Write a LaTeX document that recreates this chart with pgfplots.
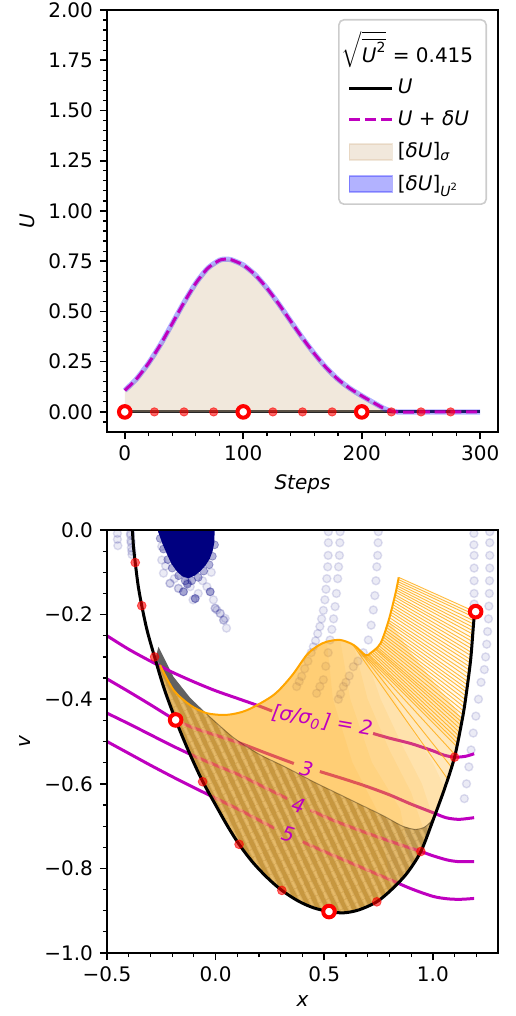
\documentclass[border=0pt]{standalone}
\usepackage{fontspec}
\setmainfont{DejaVu Sans}
\usepackage{pgfplots}
\pgfplotsset{compat=1.18}
\usetikzlibrary{patterns.meta}

\definecolor{mplnavy}{RGB}{0,0,128}
\definecolor{mplm}{rgb}{0.75,0,0.75}
\definecolor{mplorange}{RGB}{255,165,0}
\definecolor{mpltan}{RGB}{210,180,140}
\definecolor{mplblue}{RGB}{0,0,255}

\pgfplotsset{
  mpl/.style={
    scale only axis, width=195.5pt,
    axis on top, tick align=outside, tick pos=left,
    axis line style={line width=0.8pt},
    major tick length=3.5pt, minor tick length=2pt,
    major tick style={line width=0.8pt, black},
    minor tick style={line width=0.6pt, black},
    tick label style={font=\fontsize{10}{12}\selectfont},
    label style={font=\fontsize{10}{12}\selectfont},
  },
  lineimg/.style={legend image code/.code={\draw[##1] (0pt,0pt) -- (21.5pt,0pt);}},
  patchimg/.style={legend image code/.code={\filldraw[sharp corners, ##1] (0pt,-4pt) rectangle (21.5pt,4pt);}},
  traj/.style={only marks, mark=*, mark size=2pt,
    mark options={draw=mplnavy, fill=mplnavy, line width=0.7pt, draw opacity=0.12, fill opacity=0.08}},
  sheet/.style={fill=mplorange, fill opacity=#1, draw=none},
}

\begin{document}
\begin{tikzpicture}
\useasboundingbox (0,0) rectangle (257.5pt,-508pt);

% ---------------- top: U over the steps
\begin{axis}[mpl, at={(53.5pt,-5pt)}, anchor=north west, height=211pt,
  xmin=-15, xmax=315, ymin=-0.1, ymax=2,
  xtick={0,100,200,300}, xticklabels={0,100,200,300},
  minor xtick={20,40,60,80,120,140,160,180,220,240,260,280},
  ytick={0,0.25,0.5,0.75,1,1.25,1.5,1.75,2},
  yticklabels={0.00,0.25,0.50,0.75,1.00,1.25,1.50,1.75,2.00},
  minor ytick={-0.05,0,...,2},
  xlabel={\textit{Steps}}, ylabel={\textit{U}},
  legend cell align=left,
  legend style={at={(1,1)}, anchor=north east, xshift=-5.5pt, yshift=-4.5pt,
    draw=black!20, line width=0.8pt, rounded corners=2.5pt,
    fill=white, fill opacity=0.8, text opacity=1, draw opacity=1,
    font=\fontsize{10}{12}\selectfont, row sep=3pt, inner xsep=4.5pt, inner ysep=3.5pt,
    /tikz/every even column/.append style={column sep=2pt}},
]
\addplot[black, line width=1.5pt, opacity=0.85, forget plot] coordinates {(0,0) (300,0)};
\addplot[fill=mpltan, fill opacity=0.3, draw=none, forget plot] coordinates {
  (0,0) (0,0.107) (10,0.165) (20,0.242) (30,0.334) (40,0.439) (50,0.545) (60,0.641)
  (70,0.715) (80,0.755) (85,0.760) (90,0.757) (100,0.731) (110,0.683) (120,0.616)
  (130,0.537) (140,0.452) (150,0.368) (160,0.290) (170,0.220) (180,0.162) (190,0.117)
  (200,0.080) (210,0.046) (220,0.014) (230,0) (0,0)};
\addplot[mplblue, opacity=0.3, line width=2.6pt, smooth, tension=0.4, forget plot] coordinates {
  (0,0.107) (10,0.165) (20,0.242) (30,0.334) (40,0.439) (50,0.545) (60,0.641)
  (70,0.715) (80,0.755) (85,0.760) (90,0.757) (100,0.731) (110,0.683) (120,0.616)
  (130,0.537) (140,0.452) (150,0.368) (160,0.290) (170,0.220) (180,0.162) (190,0.117)
  (200,0.080) (210,0.046) (220,0.014) (230,0) (260,0) (300,0)};
\addplot[mplm, line width=1.5pt, dash pattern=on 5.5pt off 2.4pt, smooth, tension=0.4, forget plot] coordinates {
  (0,0.107) (10,0.165) (20,0.242) (30,0.334) (40,0.439) (50,0.545) (60,0.641)
  (70,0.715) (80,0.755) (85,0.760) (90,0.757) (100,0.731) (110,0.683) (120,0.616)
  (130,0.537) (140,0.452) (150,0.368) (160,0.290) (170,0.220) (180,0.162) (190,0.117)
  (200,0.080) (210,0.046) (220,0.014) (230,0) (260,0) (300,0)};
\addplot[only marks, mark=*, mark size=2.1pt, color=red, opacity=0.6, forget plot] coordinates {
  (25,0) (50,0) (75,0) (125,0) (150,0) (175,0) (225,0) (250,0) (275,0)};
\addplot[only marks, mark=*, mark size=2.9pt, mark options={fill=white, draw=red, line width=2pt}, forget plot] coordinates {
  (0,0) (100,0) (200,0)};

\addlegendimage{empty legend}
\addlegendentry{\hspace*{-28pt}$\sqrt{\overline{\mbox{\itshape U}^{\mbox{\scriptsize 2}}}}$ = 0.415}
\addlegendimage{black, line width=1.5pt, lineimg}
\addlegendentry{\textit{U}}
\addlegendimage{mplm, line width=1.5pt, dash pattern=on 5.5pt off 2.4pt, lineimg}
\addlegendentry{\textit{U} + \textit{δU}}
\addlegendimage{fill=mpltan, fill opacity=0.3, draw=mpltan, draw opacity=0.3, patchimg}
\addlegendentry{[\textit{δU}]\textsubscript{\textit{σ}}}
\addlegendimage{fill=mplblue, fill opacity=0.3, draw=mplblue, draw opacity=0.3, patchimg}
\addlegendentry{[\textit{δU}]\textsubscript{\textit{U}\textsuperscript{2}}}
\end{axis}

% ---------------- bottom: phase plane
\begin{axis}[mpl, at={(53.5pt,-265pt)}, anchor=north west, height=211.5pt,
  xmin=-0.5, xmax=1.3, ymin=-1, ymax=0,
  xtick={-0.5,0,0.5,1}, xticklabels={−0.5,0.0,0.5,1.0},
  minor xtick={-0.4,-0.3,-0.2,-0.1,0.1,0.2,0.3,0.4,0.6,0.7,0.8,0.9,1.1,1.2},
  ytick={-1,-0.8,-0.6,-0.4,-0.2,0}, yticklabels={−1.0,−0.8,−0.6,−0.4,−0.2,0.0},
  minor ytick={-0.95,-0.9,...,-0.05},
  xlabel={\textit{x}}, ylabel={\textit{v}},
  clip marker paths=true,
]
% sampled trajectories
\addplot[fill=mplnavy, draw=none] coordinates {
  (-0.268,0.01) (-0.004,0.01) (-0.006,-0.03) (-0.014,-0.05) (-0.027,-0.068) (-0.047,-0.084)
  (-0.072,-0.098) (-0.097,-0.108) (-0.125,-0.114) (-0.152,-0.110) (-0.178,-0.098)
  (-0.203,-0.080) (-0.224,-0.057) (-0.245,-0.032) (-0.264,-0.005)};
\addplot[only marks, mark=*, mark size=2pt, color=mplnavy, opacity=0.3] coordinates {
  (-0.255,-0.02) (-0.24,-0.045) (-0.22,-0.07) (-0.2,-0.09) (-0.17,-0.108) (-0.14,-0.12)
  (-0.11,-0.12) (-0.08,-0.112) (-0.055,-0.097) (-0.03,-0.082) (-0.015,-0.062) (-0.005,-0.035)
  (-0.094,-0.162) (-0.025,-0.146) (-0.148,-0.146) (-0.13,-0.128)};
\addplot[traj] coordinates {
  (-0.452,-0.008) (-0.452,-0.022) (-0.45,-0.037)
  (-0.392,-0.008) (-0.39,-0.025) (-0.388,-0.042) (-0.385,-0.058)
  (-0.392,-0.012) (-0.389,-0.03) (-0.386,-0.05)
  (-0.248,-0.039) (-0.248,-0.071) (-0.24,-0.102) (-0.21,-0.126) (-0.171,-0.138)
  (-0.148,-0.146) (-0.094,-0.162) (-0.117,-0.134) (-0.04,-0.134) (-0.025,-0.146)
  (-0.002,-0.185) (0.021,-0.197) (0.044,-0.209) (-0.104,-0.165) (0.05,-0.232)
  (0.006,-0.189) (0.037,-0.213) (-0.06,-0.12) (-0.02,-0.10) (-0.13,-0.125)
  (-0.19,-0.115) (-0.23,-0.085) (-0.01,-0.165) (-0.08,-0.15)
  (-0.21,-0.126) (-0.171,-0.138) (-0.002,-0.185) (0.021,-0.197) (0.037,-0.213)
  (0.519,-0.004) (0.519,-0.03) (0.518,-0.06) (0.516,-0.087) (0.512,-0.115) (0.508,-0.14)
  (0.503,-0.165) (0.496,-0.19) (0.488,-0.21) (0.48,-0.228) (0.47,-0.245) (0.46,-0.262)
  (0.45,-0.276) (0.44,-0.29) (0.425,-0.31) (0.41,-0.328) (0.396,-0.346) (0.385,-0.358)
  (0.373,-0.37)
  (0.573,-0.004) (0.572,-0.03) (0.57,-0.06) (0.566,-0.087) (0.562,-0.115) (0.556,-0.15)
  (0.55,-0.181) (0.543,-0.21) (0.535,-0.235) (0.527,-0.26) (0.518,-0.29) (0.507,-0.322)
  (0.496,-0.354) (0.48,-0.37) (0.465,-0.386)
  (0.749,-0.004) (0.748,-0.03) (0.746,-0.06) (0.742,-0.087) (0.738,-0.12) (0.733,-0.155)
  (0.726,-0.189) (0.716,-0.225) (0.703,-0.26) (0.68,-0.29) (0.655,-0.31) (0.634,-0.323)
  (0.615,-0.345) (0.6,-0.36) (0.588,-0.37) (0.575,-0.388) (0.565,-0.40)
  (1.262,-0.004) (1.262,-0.03) (1.262,-0.06) (1.262,-0.09) (1.261,-0.12) (1.26,-0.15)
  (1.258,-0.18) (1.256,-0.21) (1.252,-0.24) (1.248,-0.27) (1.243,-0.30) (1.237,-0.33)
  (1.222,-0.36) (1.21,-0.40) (1.198,-0.44) (1.186,-0.48) (1.176,-0.52) (1.166,-0.56)
  (1.155,-0.60) (1.145,-0.635)
  (1.189,-0.008) (1.189,-0.035) (1.19,-0.06) (1.19,-0.09) (1.19,-0.12) (1.19,-0.15) (1.19,-0.175)};

% back side of the sheet (grey)
\addplot[fill=black!65, fill opacity=0.7, draw=none] coordinates {
  (-0.263,-0.276) (-0.194,-0.347) (-0.117,-0.397) (-0.041,-0.435) (0.080,-0.490)
  (0.200,-0.530) (0.320,-0.560) (0.450,-0.595) (0.550,-0.620) (0.650,-0.645)
  (0.770,-0.675) (0.860,-0.700) (0.920,-0.708) (0.960,-0.703) (0.990,-0.690) (1.015,-0.665)
  (1.003,-0.683) (0.945,-0.760) (0.880,-0.812) (0.810,-0.850) (0.742,-0.879) (0.660,-0.898)
  (0.590,-0.905) (0.522,-0.902) (0.450,-0.893) (0.380,-0.877) (0.305,-0.852) (0.238,-0.822)
  (0.170,-0.785) (0.108,-0.743) (0.055,-0.700) (0.000,-0.650) (-0.062,-0.592) (-0.125,-0.522)
  (-0.184,-0.449) (-0.237,-0.375) (-0.262,-0.330) (-0.275,-0.300)};
\addplot[fill=black, fill opacity=0.3, draw=none] coordinates {
  (-0.263,-0.276) (-0.194,-0.347) (-0.117,-0.397) (-0.041,-0.434)
  (-0.117,-0.414) (-0.194,-0.378) (-0.256,-0.319) (-0.275,-0.300)};

% sigma contours
\addplot[mplm, line width=1.5pt, smooth] coordinates {
  (-0.5,-0.250) (-0.4,-0.282) (-0.3,-0.310) (-0.2,-0.336) (-0.1,-0.359) (0.0,-0.380)
  (0.1,-0.398) (0.2,-0.416) (0.26,-0.428)};
\addplot[mplm, line width=1.5pt, smooth] coordinates {
  (0.725,-0.481) (0.8,-0.492) (0.9,-0.505) (1.0,-0.522) (1.05,-0.532) (1.1,-0.537)
  (1.15,-0.535) (1.19,-0.529)};
\addplot[mplm, line width=1.5pt, smooth] coordinates {
  (-0.5,-0.352) (-0.4,-0.382) (-0.3,-0.413) (-0.185,-0.449) (-0.1,-0.468) (0.0,-0.485)
  (0.113,-0.504) (0.23,-0.527) (0.36,-0.552)};
\addplot[mplm, line width=1.5pt, smooth] coordinates {
  (0.48,-0.571) (0.6,-0.59) (0.7,-0.607) (0.8,-0.626) (0.9,-0.648) (1.0,-0.668)
  (1.06,-0.680) (1.12,-0.684) (1.19,-0.680)};
\addplot[mplm, line width=1.5pt, smooth] coordinates {
  (-0.5,-0.433) (-0.4,-0.458) (-0.3,-0.484) (-0.2,-0.510) (-0.1,-0.534) (0.0,-0.556)
  (0.1,-0.577) (0.2,-0.602) (0.33,-0.635)};
\addplot[mplm, line width=1.5pt, smooth] coordinates {
  (0.436,-0.662) (0.55,-0.688) (0.7,-0.717) (0.85,-0.744) (0.945,-0.760) (1.0,-0.770)
  (1.066,-0.780) (1.12,-0.784) (1.19,-0.784)};
\addplot[mplm, line width=1.5pt, smooth] coordinates {
  (-0.5,-0.50) (-0.4,-0.528) (-0.3,-0.556) (-0.2,-0.583) (-0.1,-0.609) (0.0,-0.634)
  (0.1,-0.659) (0.2,-0.686) (0.27,-0.705)};
\addplot[mplm, line width=1.5pt, smooth] coordinates {
  (0.40,-0.737) (0.5,-0.760) (0.6,-0.782) (0.7,-0.804) (0.8,-0.826) (0.9,-0.848)
  (1.0,-0.866) (1.07,-0.872) (1.13,-0.873) (1.19,-0.871)};

% front side of the sheet (orange), denser towards the crest
\addplot[sheet=0.06] coordinates {
  (0.797,-0.213) (0.828,-0.150) (0.843,-0.112) (1.180,-0.190) (1.189,-0.213) (1.174,-0.307)
  (1.150,-0.402) (1.135,-0.449) (1.10,-0.42) (1.02,-0.37) (0.90,-0.29)};
\addplot[sheet=0.26] coordinates {
  (-0.256,-0.319) (-0.194,-0.378) (-0.117,-0.414) (-0.041,-0.433) (0.051,-0.437)
  (0.144,-0.426) (0.267,-0.390) (0.350,-0.345) (0.420,-0.295) (0.470,-0.274) (0.512,-0.264)
  (0.574,-0.260) (0.636,-0.272) (0.690,-0.296) (0.713,-0.291) (0.759,-0.268) (0.797,-0.213)
  (0.90,-0.29) (1.02,-0.37) (1.10,-0.42)
  (1.135,-0.449) (1.100,-0.537) (1.055,-0.610) (1.003,-0.683) (0.945,-0.760) (0.880,-0.812)
  (0.810,-0.850) (0.742,-0.879) (0.660,-0.898) (0.590,-0.905) (0.522,-0.902) (0.450,-0.893)
  (0.380,-0.877) (0.305,-0.852) (0.238,-0.822) (0.170,-0.785) (0.108,-0.743) (0.055,-0.700)
  (0.000,-0.650) (-0.062,-0.592) (-0.125,-0.522) (-0.184,-0.449) (-0.237,-0.375) (-0.262,-0.330)};
\addplot[sheet=0.09] coordinates {
  (-0.256,-0.319) (-0.194,-0.378) (-0.117,-0.414) (-0.041,-0.433) (0.051,-0.437)
  (0.144,-0.426) (0.267,-0.390) (0.350,-0.345) (0.420,-0.295) (0.470,-0.274) (0.512,-0.264)
  (0.574,-0.260) (0.636,-0.272) (0.690,-0.296) (0.713,-0.291)
  (0.80,-0.38) (0.90,-0.47) (1.0,-0.55) (1.055,-0.610)
  (1.003,-0.683) (0.945,-0.760) (0.880,-0.812)
  (0.810,-0.850) (0.742,-0.879) (0.660,-0.898) (0.590,-0.905) (0.522,-0.902) (0.450,-0.893)
  (0.380,-0.877) (0.305,-0.852) (0.238,-0.822) (0.170,-0.785) (0.108,-0.743) (0.055,-0.700)
  (0.000,-0.650) (-0.062,-0.592) (-0.125,-0.522) (-0.184,-0.449) (-0.237,-0.375) (-0.262,-0.330)};
\addplot[sheet=0.09] coordinates {
  (-0.256,-0.319) (-0.194,-0.378) (-0.117,-0.414) (-0.041,-0.433) (0.051,-0.437)
  (0.144,-0.426) (0.267,-0.390) (0.350,-0.345) (0.420,-0.295) (0.470,-0.274) (0.512,-0.264)
  (0.574,-0.260) (0.636,-0.272) (0.690,-0.296)
  (0.76,-0.40) (0.86,-0.51) (0.95,-0.60) (1.003,-0.683)
  (0.945,-0.760) (0.880,-0.812)
  (0.810,-0.850) (0.742,-0.879) (0.660,-0.898) (0.590,-0.905) (0.522,-0.902) (0.450,-0.893)
  (0.380,-0.877) (0.305,-0.852) (0.238,-0.822) (0.170,-0.785) (0.108,-0.743) (0.055,-0.700)
  (0.000,-0.650) (-0.062,-0.592) (-0.125,-0.522) (-0.184,-0.449) (-0.237,-0.375) (-0.262,-0.330)};
\addplot[sheet=0.09] coordinates {
  (-0.256,-0.319) (-0.194,-0.378) (-0.117,-0.414) (-0.041,-0.433) (0.051,-0.437)
  (0.144,-0.426) (0.267,-0.390) (0.350,-0.345) (0.420,-0.295) (0.470,-0.274) (0.512,-0.264)
  (0.574,-0.260) (0.636,-0.272)
  (0.70,-0.40) (0.80,-0.52) (0.90,-0.62) (0.97,-0.727)
  (0.945,-0.760) (0.880,-0.812)
  (0.810,-0.850) (0.742,-0.879) (0.660,-0.898) (0.590,-0.905) (0.522,-0.902) (0.450,-0.893)
  (0.380,-0.877) (0.305,-0.852) (0.238,-0.822) (0.170,-0.785) (0.108,-0.743) (0.055,-0.700)
  (0.000,-0.650) (-0.062,-0.592) (-0.125,-0.522) (-0.184,-0.449) (-0.237,-0.375) (-0.262,-0.330)};
\addplot[sheet=0.09] coordinates {
  (-0.256,-0.319) (-0.194,-0.378) (-0.117,-0.414) (-0.041,-0.433) (0.051,-0.437)
  (0.144,-0.426) (0.267,-0.390) (0.350,-0.345) (0.420,-0.295) (0.470,-0.274) (0.512,-0.264)
  (0.574,-0.260)
  (0.62,-0.40) (0.72,-0.55) (0.85,-0.66) (0.90,-0.79)
  (0.880,-0.812)
  (0.810,-0.850) (0.742,-0.879) (0.660,-0.898) (0.590,-0.905) (0.522,-0.902) (0.450,-0.893)
  (0.380,-0.877) (0.305,-0.852) (0.238,-0.822) (0.170,-0.785) (0.108,-0.743) (0.055,-0.700)
  (0.000,-0.650) (-0.062,-0.592) (-0.125,-0.522) (-0.184,-0.449) (-0.237,-0.375) (-0.262,-0.330)};
\addplot[sheet=0.09] coordinates {
  (-0.256,-0.319) (-0.194,-0.378) (-0.117,-0.414) (-0.041,-0.433) (0.051,-0.437)
  (0.144,-0.426) (0.267,-0.390) (0.350,-0.345) (0.420,-0.295) (0.470,-0.274) (0.512,-0.264)
  (0.54,-0.40) (0.63,-0.55) (0.75,-0.67) (0.81,-0.85)
  (0.742,-0.879) (0.660,-0.898) (0.590,-0.905) (0.522,-0.902) (0.450,-0.893)
  (0.380,-0.877) (0.305,-0.852) (0.238,-0.822) (0.170,-0.785) (0.108,-0.743) (0.055,-0.700)
  (0.000,-0.650) (-0.062,-0.592) (-0.125,-0.522) (-0.184,-0.449) (-0.237,-0.375) (-0.262,-0.330)};
% stripes where the sheet folds over
\addplot[draw=none, pattern={Lines[angle=-65, distance=4pt, line width=1.6pt]},
  pattern color=mplorange!45!white, fill opacity=0.55] coordinates {
  (-0.256,-0.319) (-0.194,-0.378) (-0.117,-0.414) (-0.041,-0.434) (0.080,-0.490)
  (0.200,-0.530) (0.320,-0.560) (0.450,-0.595) (0.550,-0.620) (0.650,-0.645)
  (0.770,-0.675) (0.860,-0.700) (0.920,-0.708) (0.960,-0.703) (0.990,-0.690) (1.015,-0.665)
  (1.003,-0.683) (0.945,-0.760) (0.880,-0.812) (0.810,-0.850) (0.742,-0.879) (0.660,-0.898)
  (0.590,-0.905) (0.522,-0.902) (0.450,-0.893) (0.380,-0.877) (0.305,-0.852) (0.238,-0.822)
  (0.170,-0.785) (0.108,-0.743) (0.055,-0.700) (0.000,-0.650) (-0.062,-0.592) (-0.125,-0.522)
  (-0.184,-0.449) (-0.237,-0.375) (-0.262,-0.330)};
% ruled lines of the sheet
\addplot[mplorange, line width=0.45pt, opacity=0.75, unbounded coords=jump] coordinates {
  (0.843,-0.112) (1.180,-0.190) (1,nan)
  (0.841,-0.117) (1.183,-0.198) (1,nan)
  (0.839,-0.122) (1.185,-0.205) (1,nan)
  (0.837,-0.127) (1.186,-0.214) (1,nan)
  (0.835,-0.132) (1.186,-0.222) (1,nan)
  (0.833,-0.137) (1.185,-0.230) (1,nan)
  (0.831,-0.142) (1.184,-0.238) (1,nan)
  (0.829,-0.147) (1.183,-0.246) (1,nan)
  (0.826,-0.153) (1.181,-0.255) (1,nan)
  (0.824,-0.158) (1.180,-0.263) (1,nan)
  (0.821,-0.164) (1.179,-0.272) (1,nan)
  (0.818,-0.170) (1.177,-0.280) (1,nan)
  (0.815,-0.176) (1.176,-0.289) (1,nan)
  (0.812,-0.182) (1.175,-0.297) (1,nan)
  (0.809,-0.188) (1.173,-0.306) (1,nan)
  (0.806,-0.194) (1.171,-0.314) (1,nan)
  (0.803,-0.200) (1.169,-0.323) (1,nan)
  (0.800,-0.207) (1.167,-0.331) (1,nan)
  (0.796,-0.213) (1.165,-0.340) (1,nan)
  (0.793,-0.218) (1.163,-0.349) (1,nan)
  (0.789,-0.224) (1.160,-0.358) (1,nan)
  (0.785,-0.230) (1.158,-0.366) (1,nan)
  (0.781,-0.236) (1.156,-0.375) (1,nan)
  (0.777,-0.241) (1.154,-0.383) (1,nan)
  (0.773,-0.247) (1.152,-0.392) (1,nan)
  (0.769,-0.252) (1.150,-0.401) (1,nan)
  (0.765,-0.258) (1.147,-0.410) (1,nan)
  (0.761,-0.263) (1.145,-0.419) (1,nan)
  (0.757,-0.268) (1.142,-0.428) (1,nan)
  (0.751,-0.273) (1.139,-0.437) (1,nan)
  (0.745,-0.277) (1.136,-0.446) (1,nan)
  (0.740,-0.280) (1.133,-0.454) (1,nan)
  (0.735,-0.282) (1.130,-0.462) (1,nan)
  (0.728,-0.285) (1.126,-0.470) (1,nan)
  (0.720,-0.288) (1.122,-0.478) (1,nan)
  (0.713,-0.291) (1.118,-0.486) (1,nan)
  (0.705,-0.294) (1.114,-0.494) (1,nan)
  (0.698,-0.295) (1.110,-0.502) (1,nan)
  (0.690,-0.296) (1.107,-0.510) (1,nan)
  (0.670,-0.289) (1.100,-0.530) (1,nan)
  (0.650,-0.279) (1.085,-0.560) (1,nan)
  (0.630,-0.270) (1.070,-0.590)};
\addplot[mplorange, line width=1pt, smooth] coordinates {
  (-0.256,-0.319) (-0.194,-0.378) (-0.117,-0.414) (-0.041,-0.433) (0.051,-0.437)
  (0.144,-0.426) (0.267,-0.390) (0.350,-0.345) (0.420,-0.295) (0.470,-0.274) (0.512,-0.264)
  (0.574,-0.260) (0.636,-0.272) (0.690,-0.296) (0.713,-0.291) (0.759,-0.268) (0.797,-0.213)
  (0.828,-0.150) (0.843,-0.112)};
\addplot[black, line width=0.5pt, opacity=0.3, smooth] coordinates {
  (-0.041,-0.435) (0.080,-0.490) (0.200,-0.530) (0.320,-0.560) (0.450,-0.595) (0.550,-0.620)
  (0.650,-0.645) (0.770,-0.675) (0.860,-0.700) (0.920,-0.708) (0.960,-0.703) (0.990,-0.690)
  (1.015,-0.665)};

% boundary curve
\addplot[black, line width=1.5pt, smooth, tension=0.5] coordinates {
  (-0.383,0.000) (-0.378,-0.040) (-0.370,-0.077) (-0.357,-0.130) (-0.340,-0.179)
  (-0.315,-0.238) (-0.281,-0.300) (-0.237,-0.375) (-0.184,-0.449) (-0.125,-0.522)
  (-0.062,-0.592) (0.000,-0.650) (0.055,-0.700) (0.108,-0.743) (0.170,-0.785)
  (0.238,-0.822) (0.305,-0.852) (0.380,-0.877) (0.450,-0.893) (0.522,-0.902)
  (0.590,-0.905) (0.660,-0.898) (0.742,-0.879) (0.810,-0.850) (0.880,-0.812)
  (0.945,-0.760) (1.003,-0.683) (1.055,-0.610) (1.100,-0.537) (1.135,-0.449)
  (1.150,-0.402) (1.174,-0.307) (1.189,-0.213) (1.197,-0.193)};
\addplot[only marks, mark=*, mark size=2.2pt, color=red, opacity=0.6] coordinates {
  (-0.370,-0.077) (-0.340,-0.179) (-0.281,-0.300) (-0.060,-0.595) (0.108,-0.743)
  (0.305,-0.852) (0.742,-0.879) (0.945,-0.760) (1.100,-0.537)};
\addplot[only marks, mark=*, mark size=2.9pt, mark options={fill=white, draw=red, line width=2pt}] coordinates {
  (-0.184,-0.449) (0.522,-0.902) (1.197,-0.193)};

\node[text=mplm, font=\itshape\fontsize{10}{12}\selectfont, rotate=-10, inner sep=1pt] at (axis cs:0.49,-0.452) {[σ/σ\textsubscript{0}\kern1pt] = 2};
\node[text=mplm, font=\itshape\fontsize{10}{12}\selectfont, rotate=-14, inner sep=1pt] at (axis cs:0.419,-0.565) {3};
\node[text=mplm, font=\itshape\fontsize{10}{12}\selectfont, rotate=-17, inner sep=1pt] at (axis cs:0.381,-0.652) {4};
\node[text=mplm, font=\itshape\fontsize{10}{12}\selectfont, rotate=-15, inner sep=1pt] at (axis cs:0.334,-0.719) {5};
\end{axis}
\end{tikzpicture}
\end{document}
